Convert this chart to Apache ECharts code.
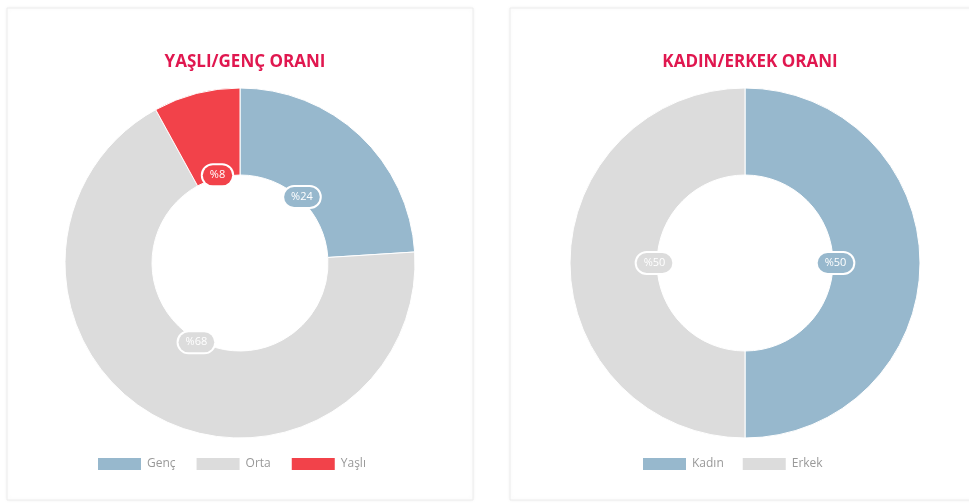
<!DOCTYPE html>
<html><head><meta charset="utf-8">
<script src="https://cdn.jsdelivr.net/npm/echarts@6/dist/echarts.min.js"></script>
<style>html,body{margin:0;padding:0;background:#fff;}#c{width:969px;height:503px;}</style>
</head><body><div id="c"></div>
<script>
const ageCategories = ['Genç', 'Orta', 'Yaşlı'];
const ageValues = [24, 68, 8];
const ageColors = ['#97b8cd', '#dcdcdc', '#f2424a'];
const sexCategories = ['Kadın', 'Erkek'];
const sexValues = [50, 50];
const sexColors = ['#97b8cd', '#dcdcdc'];
const titles = ['YAŞLI/GENÇ ORANI', 'KADIN/ERKEK ORANI'];

const chart = echarts.init(document.getElementById('c'));
function mk(cats, vals, cols) {
  return cats.map((n, i) => ({ name: n, value: vals[i], itemStyle: { color: cols[i] } }));
}
function labelSeries(cats, vals, cols, cx) {
  return {
    type: 'pie', radius: [86, 89], center: [cx, 263], silent: true,
    startAngle: 90, clockwise: true, legendHoverLink: false,
    itemStyle: { color: 'rgba(0,0,0,0)' },
    data: cats.map((n, i) => ({
      name: n, value: vals[i], itemStyle: { color: 'rgba(0,0,0,0)' },
      label: { backgroundColor: cols[i] }
    })),
    label: {
      show: true, position: 'inside', formatter: p => '%' + p.value,
      color: '#fff', fontSize: 11, fontFamily: '"Open Sans", sans-serif',
      borderColor: '#fff', borderWidth: 2, borderRadius: 11,
      padding: [5, 7, 4, 7]
    },
    labelLine: { show: false }, emphasis: { disabled: true }, tooltip: { show: false }
  };
}
const titleStyle = { color: '#e0174f', fontSize: 17, fontWeight: 'bold', fontFamily: '"Open Sans", sans-serif' };
const legendText = { color: '#999', fontSize: 12, fontFamily: '"Open Sans", sans-serif' };
chart.setOption({
  animation: false,
  graphic: [
    { type: 'rect', shape: { x: 7, y: 8, width: 466, height: 492 }, style: { fill: '#fff', stroke: '#ececec', lineWidth: 1, shadowBlur: 4, shadowColor: 'rgba(0,0,0,0.06)' }, z: -10 },
    { type: 'rect', shape: { x: 510, y: 8, width: 470, height: 492 }, style: { fill: '#fff', stroke: '#ececec', lineWidth: 1, shadowBlur: 4, shadowColor: 'rgba(0,0,0,0.06)' }, z: -10 }
  ],
  title: [
    { text: titles[0], left: 240, top: 49, textAlign: 'center', textStyle: titleStyle },
    { text: titles[1], left: 745, top: 49, textAlign: 'center', textStyle: titleStyle }
  ],
  legend: [
    { data: ageCategories, left: 96, top: 456, padding: 0, itemWidth: 45, itemHeight: 14, itemGap: 19, icon: 'rect', textStyle: legendText },
    { data: sexCategories, left: 641, top: 456, padding: 0, itemWidth: 45, itemHeight: 14, itemGap: 17, icon: 'rect', textStyle: legendText }
  ],
  series: [
    { type: 'pie', radius: [88, 175], center: [240, 263], startAngle: 90, clockwise: true,
      data: mk(ageCategories, ageValues, ageColors), label: { show: false }, labelLine: { show: false },
      itemStyle: { borderColor: '#fff', borderWidth: 1 } },
    labelSeries(ageCategories, ageValues, ageColors, 240),
    { type: 'pie', radius: [88, 175], center: [745, 263], startAngle: 90, clockwise: true,
      data: mk(sexCategories, sexValues, sexColors), label: { show: false }, labelLine: { show: false },
      itemStyle: { borderColor: '#fff', borderWidth: 1 } },
    labelSeries(sexCategories, sexValues, sexColors, 745)
  ]
});
</script></body></html>
